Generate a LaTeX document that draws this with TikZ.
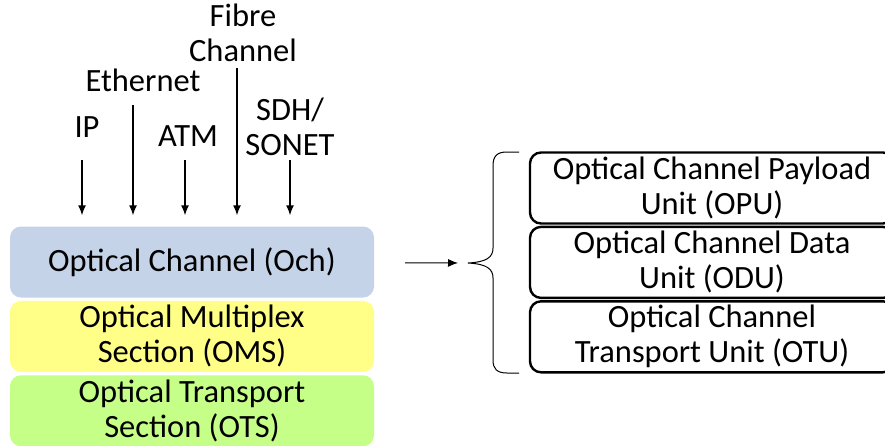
\documentclass[tikz,border=0pt]{standalone}
\usepackage{fontspec}
\setmainfont{Carlito}
\usepackage{tikz}
\usetikzlibrary{arrows.meta}
\usetikzlibrary{positioning}
\usepackage{xcolor}
\definecolor{ochblue}{RGB}{197,211,233}
\definecolor{omsyellow}{RGB}{255,255,136}
\definecolor{otsgreen}{RGB}{198,255,136}

\begin{document}
\begin{tikzpicture}[x=1pt, y=-1pt,
		every node/.style={font=\fontsize{32.5}{35}\selectfont},
		layer/.style={minimum width=364pt, minimum height=71pt, rounded corners=11pt, align=center, inner sep=0pt},
		unitbox/.style={layer, draw, line width=2.4pt, fill=white},
		lbl/.style={anchor=south, align=center, inner sep=0pt},
		feed/.style={-{Latex[length=10pt,width=8pt]}, line width=1.4pt}]
			\useasboundingbox (0,0) rectangle (885,445);
			
			\node[layer, fill=ochblue] (och) at (192,262) {Optical Channel (Och)};
			\node[layer, fill=omsyellow, below=3pt of och] (oms) {Optical Multiplex\\Section (OMS)};
			\node[layer, fill=otsgreen, below=3pt of oms] (ots) {Optical Transport\\Section (OTS)};
			
			\node[lbl] (ip) at (87,138) {IP};
			\node[lbl] (eth) at (143,92) {Ethernet};
			\node[lbl] (atm) at (188,147) {ATM};
			\node[lbl] (fc) at (243,62) {Fibre\\Channel};
			\node[lbl] (sdh) at (290,156) {SDH/\\SONET};
			
			\foreach \name/\dx/\gap in {ip/-5/22, eth/-10/13, atm/-3/13, fc/-6/6, sdh/0/4}{
				\draw[feed, shorten <=\gap pt, shorten >=11pt] ([xshift=\dx pt]\name.south) -- ([xshift=\dx pt]\name.south |- och.north);
			}
			
			\node[unitbox] (opu) at (712,188) {Optical Channel Payload\\Unit (OPU)};
			\node[unitbox, below=1pt of opu] (odu) {Optical Channel Data\\Unit (ODU)};
			\node[unitbox, below=1pt of odu] (otu) {Optical Channel\\Transport Unit (OTU)};
			
			\coordinate (tip) at (468,263);
			\draw[feed, line width=1pt, shorten <=31pt, shorten >=10pt] (och) -- (tip);
			\draw[line width=1pt] (519,152) -- (507,152) .. controls (497,152) and (493,156) .. (493,166) -- (493,248)
				.. controls (493,257) and (487,262) .. (tip) .. controls (487,264) and (493,269) .. (493,278)
				-- (493,360) .. controls (493,369) and (497,373) .. (507,373) -- (519,373);
			
		\end{tikzpicture}
\end{document}
